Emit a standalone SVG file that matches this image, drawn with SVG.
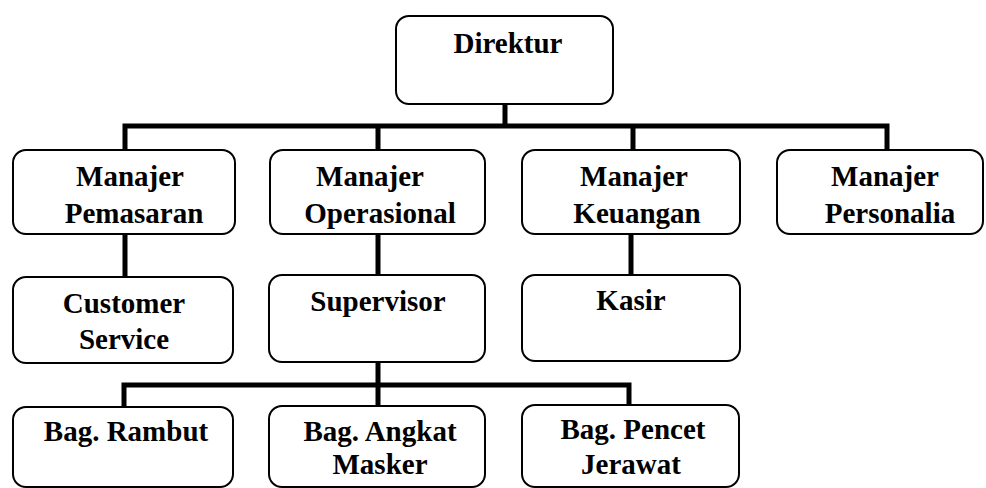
<svg xmlns="http://www.w3.org/2000/svg" width="986" height="488" viewBox="0 0 986 488">
<style>
.box{fill:#fff;stroke:#000;stroke-width:2}
.t{font-family:"Liberation Serif","DejaVu Serif","Times New Roman",serif;font-weight:bold;font-size:29px;fill:#000;text-anchor:middle}
.c{fill:none;stroke:#000;stroke-width:5;stroke-linecap:square;stroke-linejoin:miter}
</style>
<rect width="986" height="488" fill="#fff"/>
<g id="connectors">
<path class="c" d="M505 104V126M125 150V126H887V150M378 126V150M633 126V150"/>
<path class="c" d="M125 234V276M378 234V275M631 234V275"/>
<path class="c" d="M378 362V385M124 407V385H629V405M378 385V406"/>
</g>
<g id="direktur"><rect class="box" x="396" y="16" width="217" height="88" rx="13"/><text class="t" x="508" y="53">Direktur</text></g>
<g id="manajer-pemasaran"><rect class="box" x="13" y="150" width="222" height="84" rx="13"/><text class="t" x="130" y="186">Manajer</text><text class="t" x="134" y="223">Pemasaran</text></g>
<g id="manajer-operasional"><rect class="box" x="270" y="150" width="215" height="84" rx="13"/><text class="t" x="370" y="186">Manajer</text><text class="t" x="380" y="223">Operasional</text></g>
<g id="manajer-keuangan"><rect class="box" x="522" y="150" width="218" height="84" rx="13"/><text class="t" x="634" y="186">Manajer</text><text class="t" x="637" y="223">Keuangan</text></g>
<g id="manajer-personalia"><rect class="box" x="777" y="150" width="206" height="84" rx="13"/><text class="t" x="885" y="186">Manajer</text><text class="t" x="890" y="223">Personalia</text></g>
<g id="customer-service"><rect class="box" x="13" y="277" width="220" height="86" rx="13"/><text class="t" x="124" y="313">Customer</text><text class="t" x="124" y="349">Service</text></g>
<g id="supervisor"><rect class="box" x="269" y="275" width="216" height="87" rx="13"/><text class="t" x="378" y="311">Supervisor</text></g>
<g id="kasir"><rect class="box" x="522" y="275" width="218" height="86" rx="13"/><text class="t" x="631" y="310">Kasir</text></g>
<g id="bag-rambut"><rect class="box" x="13" y="407" width="220" height="80" rx="13"/><text class="t" x="126" y="441">Bag. Rambut</text></g>
<g id="bag-angkat-masker"><rect class="box" x="269" y="406" width="216" height="81" rx="13"/><text class="t" x="380" y="441">Bag. Angkat</text><text class="t" x="380" y="474">Masker</text></g>
<g id="bag-pencet-jerawat"><rect class="box" x="522" y="405" width="217" height="82" rx="13"/><text class="t" x="633" y="439">Bag. Pencet</text><text class="t" x="631" y="474">Jerawat</text></g>
</svg>
